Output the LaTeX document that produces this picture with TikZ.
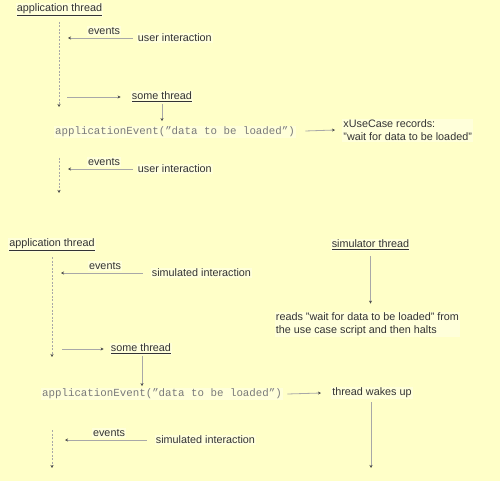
\documentclass[tikz,border=0pt]{standalone}
\usepackage{fontspec}
\setmainfont{Liberation Sans}
\newfontfamily\codefont{Liberation Mono}
\usetikzlibrary{arrows.meta}
\definecolor{bg}{HTML}{FFFFC8}
\definecolor{boxbg}{HTML}{FFFFDA}
\definecolor{txt}{HTML}{333333}
\definecolor{codetxt}{HTML}{7A7A7A}
\definecolor{ln}{HTML}{A8A8A8}
\begin{document}
\begin{tikzpicture}[x=1pt,y=-1pt,
  lbl/.style={font=\fontsize{10.8}{13}\selectfont, text=txt, fill=boxbg, inner sep=1.2pt, align=left},
  code/.style={font=\codefont\fontsize{10.8}{13}\selectfont, text=codetxt, fill=boxbg, inner sep=1.2pt},
  tip/.style={-{Stealth[length=3pt,width=3pt,color=black!70]}},
  conn/.style={draw=ln, line width=0.8pt, tip},
  life/.style={draw=ln, line width=0.6pt, dash pattern=on 2pt off 1.5pt, tip}]
\fill[bg] (0,0) rectangle (500,481);
\useasboundingbox (0,0) rectangle (500,481);

% ---------- top diagram ----------
\node[lbl] (app1) at (59.5,10) {\underline{application thread}};
\coordinate (l1top) at (59,22);
\coordinate (l1bot) at (59,107);
\draw[life] (l1top) -- (l1bot);

\node[lbl] (ev1) at (104,31) {events};
\node[lbl, anchor=west] (ui1) at (136.5,38) {user interaction};
\coordinate (l1a) at (68,38);
\draw[conn] ([xshift=-4pt]ui1.west) -- (l1a);

\coordinate (l1b) at (67,97);
\node[lbl] (st1) at (162,97) {\underline{some thread}};
\draw[conn] (l1b) -- ([xshift=-10pt]st1.west);

\node[code] (code1) at (175,132) {applicationEvent(”data to be loaded”)};
\draw[conn] ([yshift=-0.5pt]st1.south) -- ([yshift=4.5pt]st1.south |- code1.north);

\node[lbl, anchor=west] (xuc) at (342,130.5) {xUseCase records:\\"wait for data to be loaded"};
\draw[conn] ([xshift=9pt,yshift=1pt]code1.east) -- ([xshift=-7pt,yshift=0.5pt]xuc.west);

\node[lbl] (ev2) at (104,162) {events};
\node[lbl, anchor=west] (ui2) at (136.5,169) {user interaction};
\coordinate (l2a) at (68,169);
\draw[conn] ([xshift=-4pt]ui2.west) -- (l2a);
\coordinate (l2top) at (59,158);
\coordinate (l2bot) at (59,193);
\draw[life] (l2top) -- (l2bot);

% ---------- bottom diagram ----------
\node[lbl] (app2) at (52,245) {\underline{application thread}};
\coordinate (l3top) at (52,257);
\coordinate (l3bot) at (52,357);
\draw[life] (l3top) -- (l3bot);

\node[lbl] (ev3) at (105,266) {events};
\node[lbl, anchor=west] (si3) at (150.5,273) {simulated interaction};
\coordinate (l3a) at (61,273);
\draw[conn] ([xshift=-8pt]si3.west) -- (l3a);

\node[lbl] (sim) at (370.5,245) {\underline{simulator thread}};
\node[lbl, anchor=west] (reads) at (274.5,324.5) {reads "wait for data to be loaded" from\\the use case script and then halts};
\draw[conn] ([yshift=-5pt]sim.south) -- ([yshift=8pt]sim.south |- reads.north);

\coordinate (l3b) at (62,349);
\node[lbl] (st2) at (141,349) {\underline{some thread}};
\draw[conn] (l3b) -- ([xshift=-6pt]st2.west);

\node[code] (code2) at (162,394) {applicationEvent(”data to be loaded”)};
\draw[conn] ([xshift=1pt,yshift=-0.5pt]st2.south) -- ([xshift=1pt,yshift=1.5pt]st2.south |- code2.north);

\node[lbl] (wake) at (372,393) {thread wakes up};
\draw[conn] ([xshift=4pt]code2.east) -- ([xshift=-10pt]wake.west);
\coordinate (wbot) at (371,468);
\draw[conn] ([xshift=-1pt,yshift=-3pt]wake.south) -- (wbot);

\node[lbl] (ev4) at (109,433) {events};
\node[lbl, anchor=west] (si4) at (154.5,440) {simulated interaction};
\coordinate (l4a) at (65,440);
\draw[conn] ([xshift=-8pt]si4.west) -- (l4a);
\coordinate (l4top) at (52,430);
\coordinate (l4bot) at (52,468);
\draw[life] (l4top) -- (l4bot);
\end{tikzpicture}
\end{document}
